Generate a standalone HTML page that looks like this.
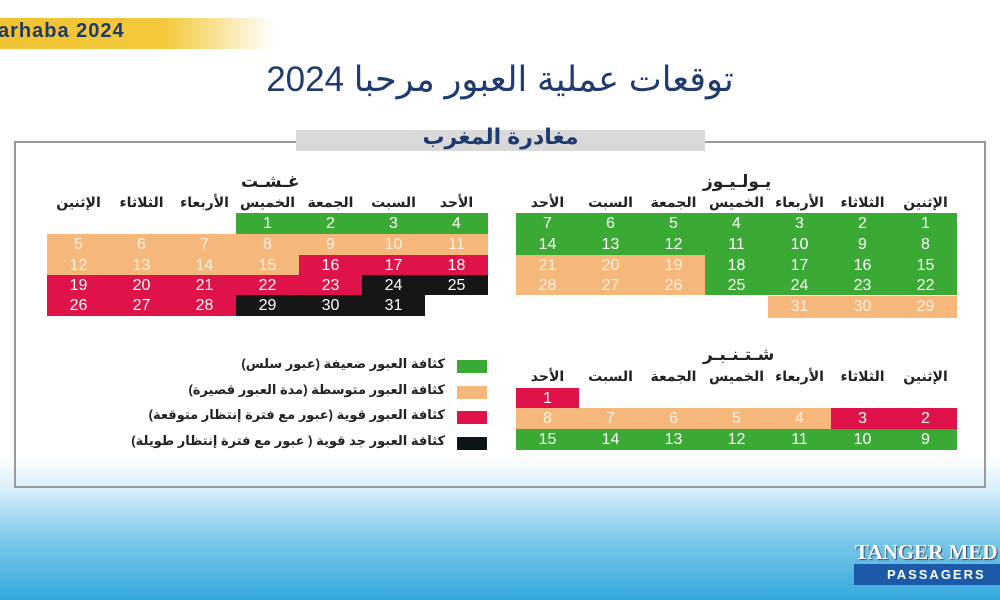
<!DOCTYPE html>
<html><head><meta charset="utf-8">
<style>
*{margin:0;padding:0;box-sizing:border-box}
body{width:1000px;height:600px;position:relative;overflow:hidden;font-family:"Liberation Sans","Noto Sans CJK SC","DejaVu Sans",sans-serif;background:linear-gradient(to bottom,#fff 0,#fff 455px,#d6eef9 490px,#7cc8ea 540px,#33a9dc 600px)}
.a{position:absolute}
.c{position:absolute;width:63px;height:21px;color:#fff;font-size:16px;line-height:21px;text-align:center}
.G{background:#3aaa35}.O{background:#f5b77a;color:#fdf1e4}.R{background:#df1349}.K{background:#161616}
.h{position:absolute;width:63px;text-align:center;font-size:14px;font-weight:bold;color:#222;direction:rtl;white-space:nowrap}
.m{position:absolute;font-size:17px;font-weight:bold;color:#222;direction:rtl;letter-spacing:1px}
.lg{position:absolute;right:555px;font-size:13px;font-weight:bold;color:#222;direction:rtl;white-space:nowrap}
.sq{position:absolute;left:457px;width:30px;height:13px}
</style></head><body>
<div class="a" style="left:0;top:18px;width:275px;height:31px;background:linear-gradient(to right,#f1c232 0,#f3c93c 60%,#fff 100%)"></div>
<div class="a" style="left:-2px;top:20px;font-size:20px;font-weight:bold;color:#1d3a6c;letter-spacing:1px">arhaba 2024</div>
<div class="a" style="left:0;width:1000px;top:60px;text-align:center;font-size:35px;font-weight:500;color:#1f3a6e;direction:rtl">توقعات عملية العبور مرحبا 2024</div>
<div class="a" style="left:14px;top:141px;width:972px;height:347px;border:2px solid #9a9a9a"></div>
<div class="a" style="left:296px;top:130px;width:409px;height:21px;background:#d9d9d9"></div>
<div class="a" style="left:296px;width:409px;top:124px;text-align:center;font-size:22px;font-weight:bold;color:#1f3a6e;direction:rtl">مغادرة المغرب</div>

<!-- August -->
<div class="m" style="left:241px;top:172px">غـشـت</div>
<div class="h" style="left:47px;top:194px">الإثنين</div><div class="h" style="left:110px;top:194px">الثلاثاء</div><div class="h" style="left:173px;top:194px">الأربعاء</div><div class="h" style="left:236px;top:194px">الخميس</div><div class="h" style="left:299px;top:194px">الجمعة</div><div class="h" style="left:362px;top:194px">السبت</div><div class="h" style="left:425px;top:194px">الأحد</div>
<div class="c G" style="left:236px;top:213px">1</div><div class="c G" style="left:299px;top:213px">2</div><div class="c G" style="left:362px;top:213px">3</div><div class="c G" style="left:425px;top:213px">4</div>
<div class="c O" style="left:47px;top:234px">5</div><div class="c O" style="left:110px;top:234px">6</div><div class="c O" style="left:173px;top:234px">7</div><div class="c O" style="left:236px;top:234px">8</div><div class="c O" style="left:299px;top:234px">9</div><div class="c O" style="left:362px;top:234px">10</div><div class="c O" style="left:425px;top:234px">11</div>
<div class="c O" style="left:47px;top:255px;height:20px">12</div><div class="c O" style="left:110px;top:255px;height:20px">13</div><div class="c O" style="left:173px;top:255px;height:20px">14</div><div class="c O" style="left:236px;top:255px;height:20px">15</div><div class="c R" style="left:299px;top:255px;height:20px">16</div><div class="c R" style="left:362px;top:255px;height:20px">17</div><div class="c R" style="left:425px;top:255px;height:20px">18</div>
<div class="c R" style="left:47px;top:275px;height:20px">19</div><div class="c R" style="left:110px;top:275px;height:20px">20</div><div class="c R" style="left:173px;top:275px;height:20px">21</div><div class="c R" style="left:236px;top:275px;height:20px">22</div><div class="c R" style="left:299px;top:275px;height:20px">23</div><div class="c K" style="left:362px;top:275px;height:20px">24</div><div class="c K" style="left:425px;top:275px;height:20px">25</div>
<div class="c R" style="left:47px;top:295px">26</div><div class="c R" style="left:110px;top:295px">27</div><div class="c R" style="left:173px;top:295px">28</div><div class="c K" style="left:236px;top:295px">29</div><div class="c K" style="left:299px;top:295px">30</div><div class="c K" style="left:362px;top:295px">31</div>

<!-- July -->
<div class="m" style="left:703px;top:172px">يـولـيـوز</div>
<div class="h" style="left:516px;top:194px">الأحد</div><div class="h" style="left:579px;top:194px">السبت</div><div class="h" style="left:642px;top:194px">الجمعة</div><div class="h" style="left:705px;top:194px">الخميس</div><div class="h" style="left:768px;top:194px">الأربعاء</div><div class="h" style="left:831px;top:194px">الثلاثاء</div><div class="h" style="left:894px;top:194px">الإثنين</div>
<div class="c G" style="left:516px;top:213px">7</div><div class="c G" style="left:579px;top:213px">6</div><div class="c G" style="left:642px;top:213px">5</div><div class="c G" style="left:705px;top:213px">4</div><div class="c G" style="left:768px;top:213px">3</div><div class="c G" style="left:831px;top:213px">2</div><div class="c G" style="left:894px;top:213px">1</div>
<div class="c G" style="left:516px;top:234px">14</div><div class="c G" style="left:579px;top:234px">13</div><div class="c G" style="left:642px;top:234px">12</div><div class="c G" style="left:705px;top:234px">11</div><div class="c G" style="left:768px;top:234px">10</div><div class="c G" style="left:831px;top:234px">9</div><div class="c G" style="left:894px;top:234px">8</div>
<div class="c O" style="left:516px;top:255px;height:20px">21</div><div class="c O" style="left:579px;top:255px;height:20px">20</div><div class="c O" style="left:642px;top:255px;height:20px">19</div><div class="c G" style="left:705px;top:255px;height:20px">18</div><div class="c G" style="left:768px;top:255px;height:20px">17</div><div class="c G" style="left:831px;top:255px;height:20px">16</div><div class="c G" style="left:894px;top:255px;height:20px">15</div>
<div class="c O" style="left:516px;top:275px;height:20px">28</div><div class="c O" style="left:579px;top:275px;height:20px">27</div><div class="c O" style="left:642px;top:275px;height:20px">26</div><div class="c G" style="left:705px;top:275px;height:20px">25</div><div class="c G" style="left:768px;top:275px;height:20px">24</div><div class="c G" style="left:831px;top:275px;height:20px">23</div><div class="c G" style="left:894px;top:275px;height:20px">22</div>
<div class="c O" style="left:768px;top:296px;height:22px">31</div><div class="c O" style="left:831px;top:296px;height:22px">30</div><div class="c O" style="left:894px;top:296px;height:22px">29</div>

<!-- September -->
<div class="m" style="left:703px;top:345px">شـتـنـبـر</div>
<div class="h" style="left:516px;top:368px">الأحد</div><div class="h" style="left:579px;top:368px">السبت</div><div class="h" style="left:642px;top:368px">الجمعة</div><div class="h" style="left:705px;top:368px">الخميس</div><div class="h" style="left:768px;top:368px">الأربعاء</div><div class="h" style="left:831px;top:368px">الثلاثاء</div><div class="h" style="left:894px;top:368px">الإثنين</div>
<div class="c R" style="left:516px;top:388px;height:20px">1</div>
<div class="c O" style="left:516px;top:408px">8</div><div class="c O" style="left:579px;top:408px">7</div><div class="c O" style="left:642px;top:408px">6</div><div class="c O" style="left:705px;top:408px">5</div><div class="c O" style="left:768px;top:408px">4</div><div class="c R" style="left:831px;top:408px">3</div><div class="c R" style="left:894px;top:408px">2</div>
<div class="c G" style="left:516px;top:429px">15</div><div class="c G" style="left:579px;top:429px">14</div><div class="c G" style="left:642px;top:429px">13</div><div class="c G" style="left:705px;top:429px">12</div><div class="c G" style="left:768px;top:429px">11</div><div class="c G" style="left:831px;top:429px">10</div><div class="c G" style="left:894px;top:429px">9</div>

<!-- Legend -->
<div class="sq G" style="top:360px"></div><div class="lg" style="top:356px">كثافة العبور ضعيفة (عبور سلس)</div>
<div class="sq O" style="top:386px"></div><div class="lg" style="top:382px">كثافة العبور متوسطة (مدة العبور قصيرة)</div>
<div class="sq R" style="top:411px"></div><div class="lg" style="top:407px">كثافة العبور قوية (عبور مع فترة إنتظار متوقعة)</div>
<div class="sq" style="top:437px;background:#0d1418"></div><div class="lg" style="top:433px">كثافة العبور جد قوية ( عبور مع فترة إنتظار طويلة)</div>

<!-- Logo -->
<div class="a" style="left:855px;top:540px;font-family:'Liberation Serif',serif;font-weight:bold;font-size:21px;color:#fff;text-shadow:1px 1px 1px #345;white-space:nowrap">TANGER MED</div>
<div class="a" style="left:854px;top:564px;width:146px;height:21px;background:#1a5aa8;color:#fff;font-weight:bold;font-size:13px;letter-spacing:2px;line-height:21px;padding-left:33px">PASSAGERS</div>
</body></html>
